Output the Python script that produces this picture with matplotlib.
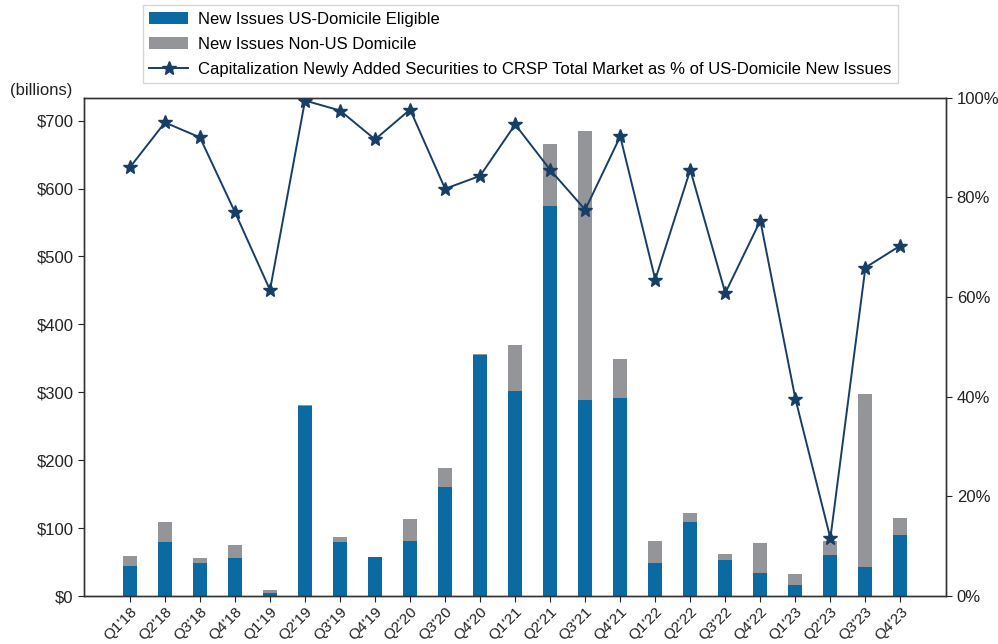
import matplotlib
matplotlib.use("Agg")
import matplotlib.pyplot as plt
import numpy as np
from matplotlib.ticker import FuncFormatter

plt.rcParams['font.family'] = ['Liberation Sans', 'DejaVu Sans']

quarters = ["Q1'18", "Q2'18", "Q3'18", "Q4'18", "Q1'19", "Q2'19", "Q3'19", "Q4'19",
            "Q2'20", "Q3'20", "Q4'20", "Q1'21", "Q2'21", "Q3'21", "Q4'21",
            "Q1'22", "Q2'22", "Q3'22", "Q4'22", "Q1'23", "Q2'23", "Q3'23", "Q4'23"]
us_eligible = [44, 80, 49, 56, 4, 280, 80, 57, 81, 161, 355, 302, 575, 289, 292,
               49, 109, 53, 34, 16, 60, 42, 90]
non_us = [15, 29, 7, 19, 5, 2, 7, 1, 32, 28, 1, 68, 91, 396, 57,
          32, 13, 9, 44, 17, 21, 255, 25]
cap_pct = [86.0, 95.0, 92.0, 77.0, 61.4, 99.4, 97.4, 91.6, 97.6, 81.7, 84.3, 94.6,
           85.5, 77.5, 92.2, 63.5, 85.5, 60.8, 75.3, 39.6, 11.6, 65.9, 70.3]

blue = '#0A6AA1'
gray = '#939598'
navy = '#173E67'

fig = plt.figure(figsize=(9.98, 6.44), dpi=100)
ax = fig.add_axes([0.0842, 0.0745, 0.864, 0.774])
x = np.arange(len(quarters))
b1 = ax.bar(x, us_eligible, width=0.4, color=blue, label='New Issues US-Domicile Eligible', zorder=2)
b2 = ax.bar(x, non_us, width=0.4, bottom=us_eligible, color=gray, label='New Issues Non-US Domicile', zorder=2)
ax.set_ylim(0, 734)
ax.set_xlim(-1.31, len(quarters) - 1 + 1.31)
ax.set_yticks(range(0, 701, 100))
ax.yaxis.set_major_formatter(FuncFormatter(lambda v, p: f'${int(v)}'))
ax.set_xticks(x)
ax.set_xticklabels(quarters, rotation=45, ha='right', rotation_mode='anchor')
ax.tick_params(axis='y', labelsize=12, colors='#222222', length=4)
ax.tick_params(axis='x', labelsize=11, colors='#222222', length=4, pad=2)

ax2 = ax.twinx()
l1, = ax2.plot(x, cap_pct, color=navy, marker='*', markersize=10, linewidth=1.4,
               label='Capitalization Newly Added Securities to CRSP Total Market as % of US-Domicile New Issues',
               zorder=3)
ax2.set_ylim(0, 100)
ax2.set_yticks(range(0, 101, 20))
ax2.yaxis.set_major_formatter(FuncFormatter(lambda v, p: f'{int(v)}%'))
ax2.tick_params(axis='y', labelsize=12, colors='#222222', length=4)

for a in (ax, ax2):
    for s in a.spines.values():
        s.set_color('#333333')
        s.set_linewidth(1.0)

fig.text(0.01, 0.848, '(billions)', fontsize=12, color='#222222', ha='left', va='bottom')

leg = fig.legend(handles=[b1, b2, l1], loc='upper left', bbox_to_anchor=(0.143, 0.992),
                 borderaxespad=0.0,
                 fontsize=12, frameon=True, fancybox=False, edgecolor='#cccccc',
                 handlelength=2.3, handletextpad=0.6, labelspacing=0.6, borderpad=0.4)

fig.savefig('out.png', dpi=100)
